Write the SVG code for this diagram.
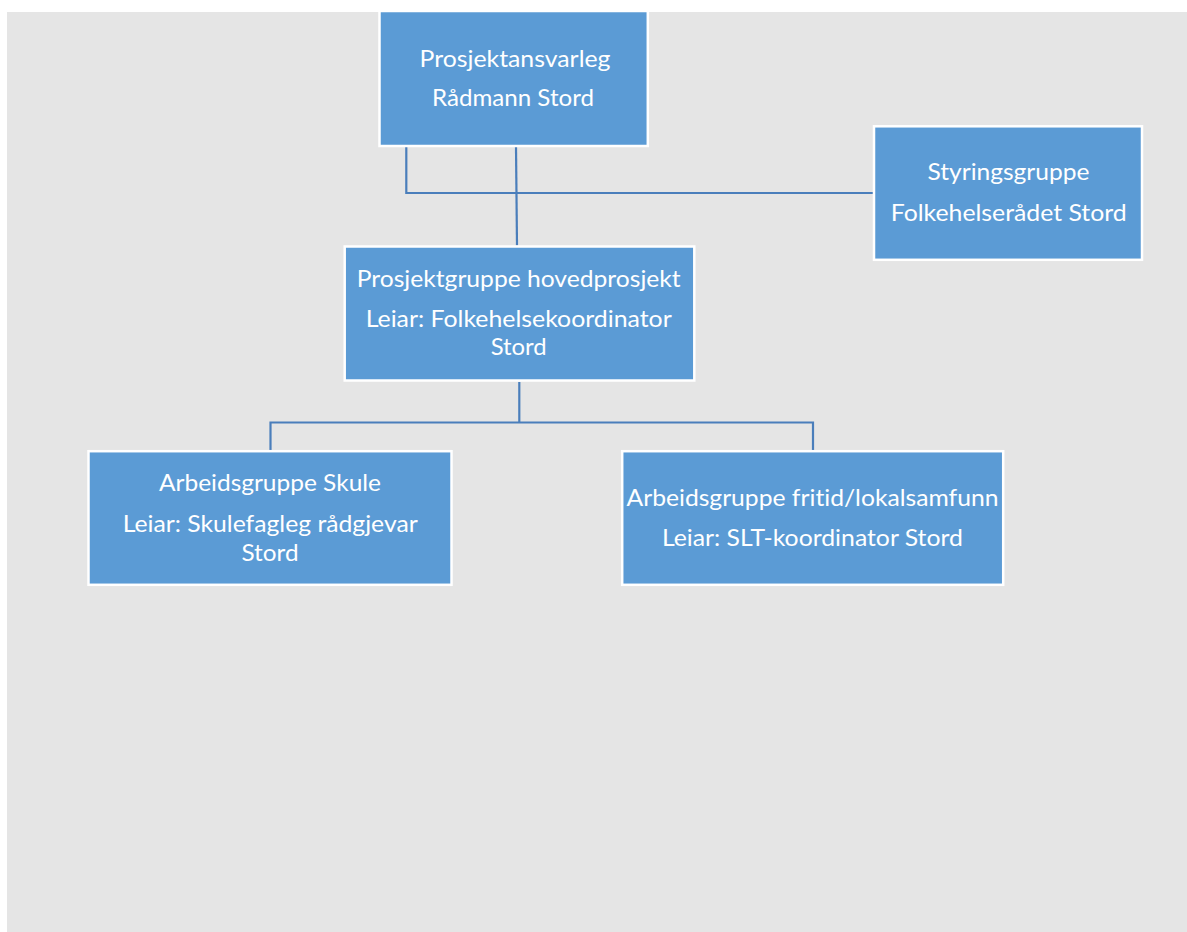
<svg xmlns="http://www.w3.org/2000/svg" width="1187" height="932" viewBox="0 0 1187 932">
  <style>
    .node { fill: #5B9BD5; stroke: #FFFFFF; stroke-width: 2.5; }
    .lbl { font-family: Lato, "Open Sans", "Liberation Sans", sans-serif; font-size: 23px; fill: #FFFFFF; text-anchor: middle; font-variant-ligatures: none; }
    .conn { fill: none; stroke: #4A7EBB; stroke-width: 2.2; }
  </style>
  <rect x="0" y="0" width="1187" height="932" fill="#FFFFFF"/>
  <rect x="7" y="12" width="1180" height="920" fill="#E5E5E5"/>

  <g id="connectors">
    <path class="conn" d="M406.3 147 V193 H873"/>
    <path class="conn" d="M516 147 L517 245.5"/>
    <path class="conn" d="M519.3 382 V422.5"/>
    <path class="conn" d="M270.5 450 V422.5 H813 V450"/>
  </g>

  <g id="prosjektansvarleg">
    <rect class="node" x="379.5" y="11" width="268.3" height="135"/>
    <text class="lbl" x="515" y="66.7" textLength="191" lengthAdjust="spacingAndGlyphs">Prosjektansvarleg</text>
    <text class="lbl" x="513" y="105.7" textLength="162" lengthAdjust="spacingAndGlyphs">Rådmann Stord</text>
  </g>

  <g id="styringsgruppe">
    <rect class="node" x="874" y="126.3" width="268" height="133.5"/>
    <text class="lbl" x="1008.5" y="179.5" textLength="162" lengthAdjust="spacingAndGlyphs">Styringsgruppe</text>
    <text class="lbl" x="1008.7" y="221" textLength="236" lengthAdjust="spacingAndGlyphs">Folkehelserådet Stord</text>
  </g>

  <g id="prosjektgruppe">
    <rect class="node" x="344.7" y="246.5" width="349.6" height="134"/>
    <text class="lbl" x="518.7" y="287" textLength="324" lengthAdjust="spacingAndGlyphs">Prosjektgruppe hovedprosjekt</text>
    <text class="lbl" x="518.7" y="326.7" textLength="306" lengthAdjust="spacingAndGlyphs">Leiar: Folkehelsekoordinator</text>
    <text class="lbl" x="518.7" y="355" textLength="56" lengthAdjust="spacingAndGlyphs">Stord</text>
  </g>

  <g id="arbeidsgruppe-skule">
    <rect class="node" x="88.5" y="451.2" width="363" height="133.6"/>
    <text class="lbl" x="270" y="490.7" textLength="222" lengthAdjust="spacingAndGlyphs">Arbeidsgruppe Skule</text>
    <text class="lbl" x="270.2" y="532" textLength="295" lengthAdjust="spacingAndGlyphs">Leiar: Skulefagleg rådgjevar</text>
    <text class="lbl" x="270" y="560.7" textLength="57" lengthAdjust="spacingAndGlyphs">Stord</text>
  </g>

  <g id="arbeidsgruppe-fritid">
    <rect class="node" x="622.2" y="451.2" width="381" height="133.6"/>
    <text class="lbl" x="812.5" y="505.7" textLength="372" lengthAdjust="spacingAndGlyphs">Arbeidsgruppe fritid/lokalsamfunn</text>
    <text class="lbl" x="812.4" y="545.7" textLength="301" lengthAdjust="spacingAndGlyphs">Leiar: SLT-koordinator Stord</text>
  </g>
</svg>
